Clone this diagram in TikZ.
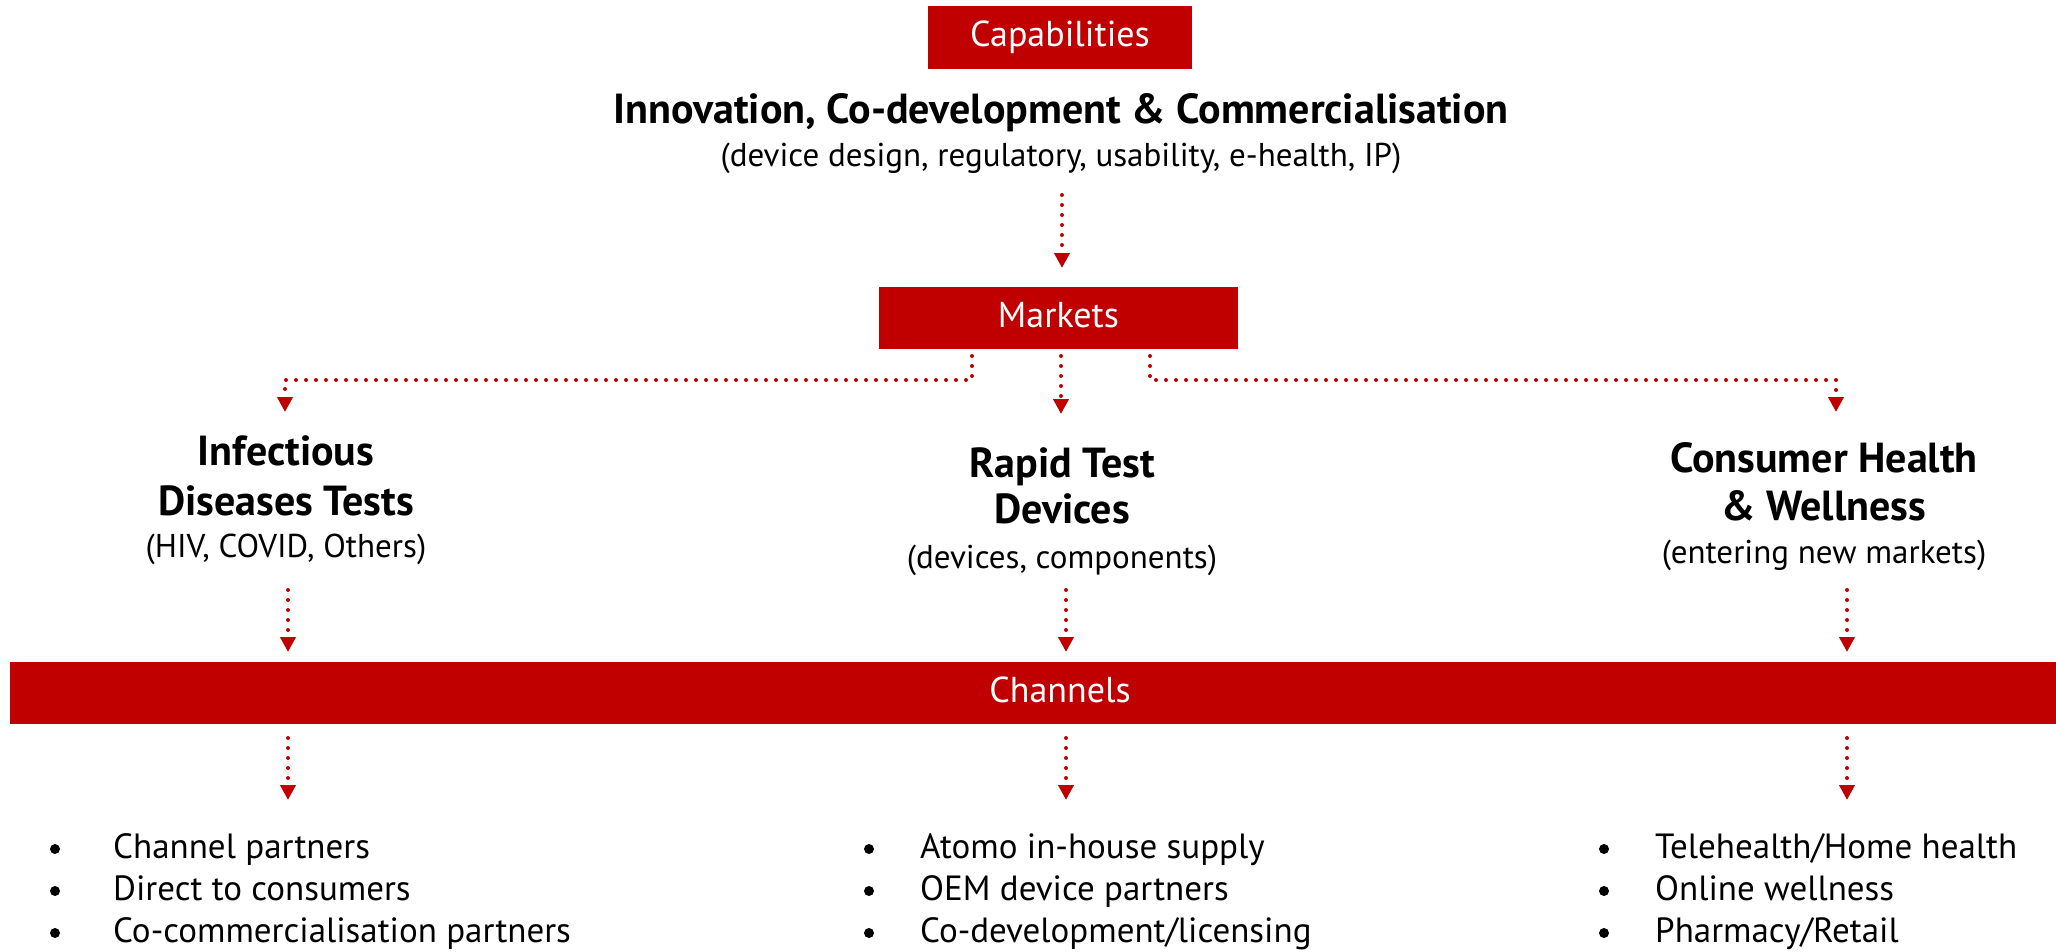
\documentclass[tikz,border=0pt]{standalone}
\usepackage{fontspec}
\setmainfont{PT Sans}
\usetikzlibrary{arrows.meta}
\definecolor{brand}{HTML}{C00000}
\begin{document}
\begin{tikzpicture}[x=1pt,y=-1pt,
  redbox/.style={fill=brand,draw=none,text=white,font=\fontsize{36}{40}\selectfont,inner sep=0pt,text height=18pt,text depth=0pt},
  heading/.style={font=\bfseries\fontsize{42}{46}\selectfont,inner sep=0pt,anchor=base},
  subline/.style={font=\fontsize{33}{36}\selectfont,inner sep=0pt,anchor=base},
  bullettext/.style={font=\fontsize{35}{40}\selectfont,inner sep=0pt,anchor=base west},
  dotline/.style={brand,line width=4pt,line cap=round,dash pattern=on 0pt off 10pt},
  dotarrow/.style={dotline,-{Triangle[width=15pt,length=15pt]}}]
\useasboundingbox (0,0) rectangle (2056,951);
% boxes
\node[redbox,minimum width=264pt,minimum height=63pt] (cap) at (1060,37.5) {Capabilities};
\node[heading] (title) at (1061,123) {Innovation, Co-development \& Commercialisation};
\node[subline] (tsub) at (1061,166) {(device design, regulatory, usability, e-health, IP)};
\node[redbox,minimum width=359pt,minimum height=62pt] (mk) at (1058.5,318) {Markets};
\node[redbox,minimum width=2100pt,minimum height=62pt] (ch) at (1060,693) {Channels};
% market headings
\node[heading] (inf1) at (286,465) {Infectious};
\node[heading] (inf2) at (286,515) {Diseases Tests};
\node[subline] (inf3) at (286,557) {(HIV, COVID, Others)};
\node[heading] (rap1) at (1062,477) {Rapid Test};
\node[heading] (rap2) at (1062,523) {Devices};
\node[subline] (rap3) at (1062,568) {(devices, components)};
\node[heading] (con1) at (1824,472) {Consumer Health};
\node[heading] (con2) at (1824,520) {\& Wellness};
\node[subline] (con3) at (1824,563) {(entering new markets)};
% connector points
\coordinate (a1s) at (1062,195);
\coordinate (a1e) at (1062,268);
\coordinate (lb0) at (972,356);
\coordinate (lb1) at (972,380);
\coordinate (lb2) at (285,380);
\coordinate (lbe) at (285,412);
\coordinate (cb0) at (1061,356);
\coordinate (cbe) at (1061,414);
\coordinate (rb0) at (1150,356);
\coordinate (rb1) at (1150,380);
\coordinate (rb2) at (1836,380);
\coordinate (rbe) at (1836,412);
\draw[dotarrow] (a1s) -- (a1e);
\draw[dotarrow] (lb0) -- (lb1) -- (lb2) -- (lbe);
\draw[dotarrow] (cb0) -- (cbe);
\draw[dotarrow] (rb0) -- (rb1) -- (rb2) -- (rbe);
% down to channels
\foreach \n/\x in {l/288,m/1066,r/1847}{
  \coordinate (\n u0) at (\x,590);
  \coordinate (\n u1) at (\x,652);
  \coordinate (\n d0) at (\x,738);
  \coordinate (\n d1) at (\x,800);
  \draw[dotarrow] (\n u0) -- (\n u1);
  \draw[dotarrow] (\n d0) -- (\n d1);
}
% bullets
\foreach \bx/\tx/\name/\a/\b/\c in {
  55/113/L/Channel partners/Direct to consumers/Co-commercialisation partners,
  869/920/M/Atomo in-house supply/OEM device partners/Co-development{/}licensing,
  1604/1655/R/Telehealth{/}Home health/Online wellness/Pharmacy{/}Retail}{
  \node[bullettext] (\name b1) at (\tx,858) {\a};
  \node[bullettext] (\name b2) at (\tx,900) {\b};
  \node[bullettext] (\name b3) at (\tx,942) {\c};
  \foreach \y in {849,891,933}{\fill (\bx,\y) circle (5pt);}
}
\end{tikzpicture}
\end{document}
